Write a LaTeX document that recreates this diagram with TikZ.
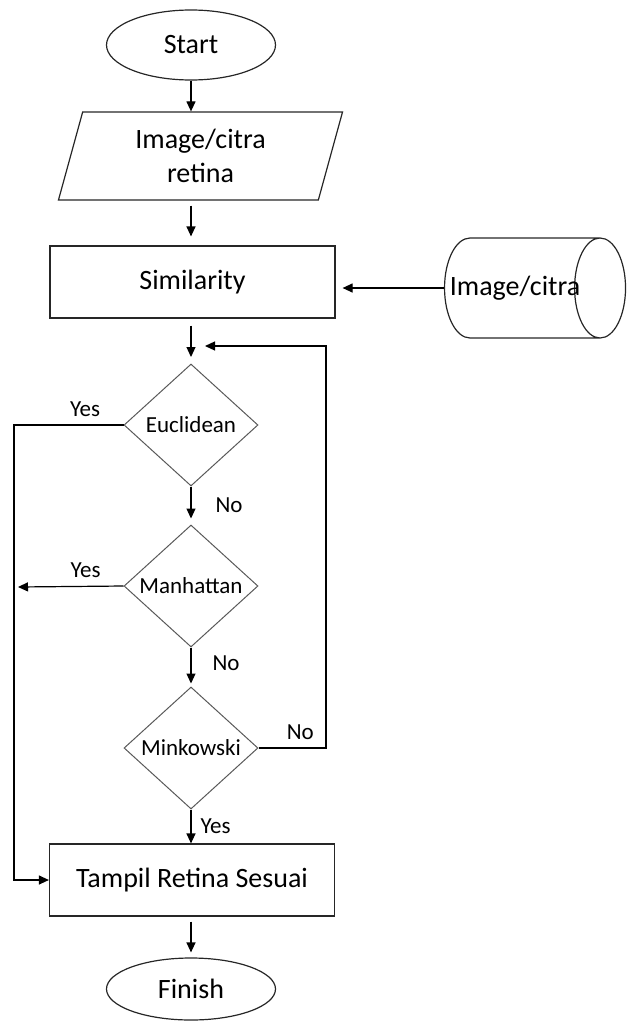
\documentclass[tikz,border=0pt]{standalone}
\usepackage{fontspec}
\setmainfont{Carlito}
\usetikzlibrary{shapes.geometric, arrows.meta, positioning, calc}
\tikzset{
  basenode/.style={draw=black!85, line width=0.6pt, align=center, inner sep=0pt,
                   font=\fontsize{14pt}{17pt}\selectfont},
  termnode/.style={basenode, ellipse, minimum width=84.5pt, minimum height=35pt},
  ionode/.style={basenode, trapezium, trapezium left angle=76,
                 trapezium right angle=104, trapezium stretches=true,
                 minimum width=142.5pt, minimum height=44pt},
  procnode/.style={basenode, rectangle, minimum width=142.5pt,
                   minimum height=36pt},
  dbnode/.style={basenode, cylinder, aspect=2.1, minimum width=50pt,
                 minimum height=90.5pt},
  decnode/.style={diamond, draw=black!65, line width=0.5pt, inner sep=0pt,
                  minimum width=67pt, minimum height=61pt,
                  font=\fontsize{11.5pt}{14pt}\selectfont},
  lbl/.style={font=\fontsize{11.5pt}{14pt}\selectfont, inner sep=0pt},
  arrow/.style={-{Triangle[length=5pt, width=4.5pt]}, line width=0.6pt}
}

\begin{document}
\begin{tikzpicture}[x=0.5pt, y=-0.5pt]
  \useasboundingbox (0,0) rectangle (627,1023);

  % main column
  \node[termnode] (start) at (191,45) {Start};
  \node[ionode] (input) at (200.5,156) {Image/citra\\retina};
  \node[procnode] (sim) at (192.5,282) {Similarity};
  \node[dbnode] (db) at (522,288) {\makebox[0pt]{\kern-7pt Image/citra}};
  \node[decnode] (euc) at (191,425) {\makebox[0pt]{Euclidean}};
  \node[decnode] (man) at (191,586) {\makebox[0pt]{Manhattan}};
  \node[decnode] (mink) at (191,748) {\makebox[0pt]{Minkowski}};
  \node[procnode] (show) at (192,880) {Tampil Retina Sesuai};
  \node[termnode, minimum height=31pt] (finish) at (191,989) {Finish};

  % free ends and corners
  \coordinate (merge) at (191,357);
  \coordinate (loopend) at (205,346);
  \coordinate (rightrail) at (326,346);
  \coordinate (leftrail) at (14,425);
  \coordinate (yesend) at (18,587);

  \draw[arrow] (start.south) -- (start.south |- input.north);
  \draw[arrow, shorten <=2.5pt, shorten >=4.5pt]
    (start |- input.south) -- (start |- sim.north);
  \draw[arrow, shorten <=3.5pt] (start |- sim.south) -- (merge);
  \draw[arrow, shorten >=3.5pt] (db.west) -- (sim.east |- db.west);

  \draw[arrow, shorten >=3pt] (euc.south)
    -- node[lbl, right=12pt] (no1) {No} (man.north);
  \draw[arrow, shorten >=1.5pt] (man.south)
    -- node[lbl, right=10.5pt, yshift=2pt] (no2) {No} (mink.north);
  \draw[arrow] (mink.south)
    -- node[lbl, right=4.5pt] (yes3) {Yes} (mink.south |- show.north);
  \draw[arrow, shorten <=2.5pt, shorten >=2.5pt]
    (start |- show.south) -- (finish.north);

  % yes branches
  \draw[arrow] (euc.west)
    -- node[lbl, pos=0.35, above=4pt] (yes1) {Yes} (leftrail) |- (show.west);
  \draw[arrow] (man.west)
    -- node[lbl, pos=0.36, above=4pt] (yes2) {Yes} (yesend);

  % loop back
  \draw[arrow] (mink.east)
    -- node[lbl, pos=0.62, above=4pt] (no3) {No} (rightrail |- mink.east)
    -- (rightrail) -- (loopend);
\end{tikzpicture}
\end{document}
